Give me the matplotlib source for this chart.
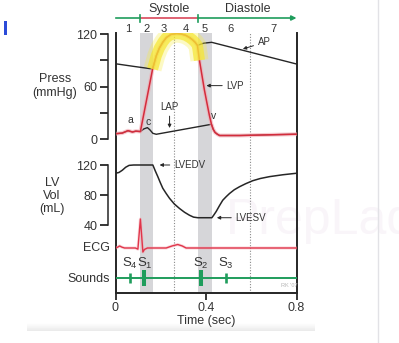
import matplotlib
matplotlib.use('Agg')
import matplotlib.pyplot as plt
import matplotlib.transforms as mtransforms
from matplotlib.patches import Rectangle
import numpy as np

plt.rcParams['font.family'] = ['Liberation Sans', 'DejaVu Sans']
plt.rcParams['mathtext.fontset'] = 'custom'
plt.rcParams['mathtext.rm'] = 'Liberation Sans'
plt.rcParams['mathtext.it'] = 'Liberation Sans:italic'

# ---- one cardiac cycle (0.8 s) ----
phase_edges = [0.0, 0.11, 0.165, 0.26, 0.365, 0.425, 0.595, 0.8]
phase_labels = ['1', '2', '3', '4', '5', '6', '7']
shaded_phases = [1, 4]          # isovolumetric contraction / relaxation
dotted_edges = [0.26, 0.595]

# left ventricular pressure (mmHg)
t_lvp = [0.0, 0.03, 0.055, 0.075, 0.09, 0.11, 0.164, 0.18, 0.194, 0.21, 0.225,
         0.245, 0.27, 0.29, 0.31, 0.327, 0.34, 0.352, 0.362, 0.371, 0.382,
         0.393, 0.405, 0.415, 0.424, 0.432, 0.44, 0.45, 0.46, 0.55, 0.8]
lvp = [6.0, 6.8, 9.5, 8.0, 9.0, 8.5, 80, 95, 104, 111, 116,
       119.5, 120.5, 120, 118.5, 116, 113.5, 110.5, 107, 90, 73,
       56, 40, 27, 17, 11, 7.5, 5.5, 4.0, 4.0, 5.5]

# aortic pressure (mmHg)
t_ap = [0.0, 0.08, 0.164, 0.18, 0.194, 0.21, 0.225, 0.245, 0.27, 0.29, 0.31,
        0.327, 0.34, 0.352, 0.362, 0.39, 0.425, 0.8]
ap = [86, 83, 80, 95, 104, 111, 116, 119.5, 120.5, 120, 118.5,
      116, 113.5, 110.5, 107, 109.5, 110.5, 85.7]

# left atrial pressure (mmHg)
t_lap = [0.0, 0.03, 0.055, 0.075, 0.09, 0.11, 0.125, 0.141, 0.152, 0.165,
         0.18, 0.424, 0.432, 0.44, 0.45, 0.46, 0.55, 0.8]
lap = [6.0, 6.8, 9.5, 8.0, 9.0, 8.5, 11.5, 13.0, 10.5, 6.5,
       5.4, 16.8, 11, 7.5, 5.5, 4.0, 4.0, 5.5]

# left ventricular volume (mL)
t_vol = [0.0, 0.015, 0.03, 0.045, 0.06, 0.08, 0.165, 0.176, 0.187, 0.198,
         0.209, 0.224, 0.239, 0.26, 0.283, 0.305, 0.327, 0.345, 0.364, 0.426,
         0.435, 0.445, 0.46, 0.474, 0.49, 0.504, 0.525, 0.548, 0.575, 0.606,
         0.64, 0.681, 0.74, 0.8]
vol = [109, 110, 113, 117, 119.5, 120, 120, 112, 104.5, 96.5,
       89, 82, 75.5, 68, 62, 57, 53, 50.5, 49.7, 49.7,
       53.5, 58, 66, 73, 78, 82, 87, 91, 95, 99,
       102, 104.5, 107, 109]

# ECG (relative units)
t_ecg = [0.0, 0.01, 0.018, 0.028, 0.04, 0.088, 0.099, 0.11, 0.121, 0.128,
         0.141, 0.224, 0.25, 0.275, 0.295, 0.312, 0.8]
ecg = [0, 0.03, 0.07, 0.03, 0, 0, -0.04, 1.0, -0.14, -0.05,
       0, 0, 0.07, 0.12, 0.07, 0, 0]

# heart sounds
sound_names = ['S$_4$', 'S$_1$', 'S$_2$', 'S$_3$']
sound_times = [0.062, 0.128, 0.376, 0.487]
sound_size = [0.34, 0.47, 0.47, 0.34]

BLACK = '#262626'
RED = '#d42c3c'
GREEN = '#1f9d5c'
GRAY = '#d6d6d9'
TXT = '#333333'

W, H = 399, 343
fig = plt.figure(figsize=(W / 100, H / 100), dpi=100)

X0, X1 = 115.5, 296.5


def fy(ypx):
    return 1 - ypx / H


def band(top, bottom):
    a = fig.add_axes([X0 / W, fy(bottom), (X1 - X0) / W, (bottom - top) / H],
                     sharex=ax)
    a.patch.set_visible(False)
    for s in a.spines.values():
        s.set_visible(False)
    a.tick_params(left=False, bottom=False, labelleft=False, labelbottom=False)
    return a


# main frame: shaded phases, dotted markers, time axis
ax = fig.add_axes([X0 / W, fy(293), (X1 - X0) / W, (293 - 33) / H])
ax.set_xlim(0, 0.8)
ax.set_ylim(0, 1)
ax.patch.set_visible(False)
ax.spines['top'].set_visible(False)
for s in ['left', 'right', 'bottom']:
    ax.spines[s].set_linewidth(1.4)
    ax.spines[s].set_color(BLACK)
ax.set_yticks([])
ax.set_xticks([0, 0.4, 0.8])
ax.set_xticklabels(['0', '0.4', '0.8'])
ax.tick_params(axis='x', length=5, width=1.1, pad=1.5, labelsize=9,
               labelcolor=TXT)
ax.set_xlabel('Time (sec)', fontsize=9, color=TXT, labelpad=1)
for i in shaded_phases:
    ax.axvspan(phase_edges[i], phase_edges[i + 1], color=GRAY, lw=0, zorder=0)
for t in dotted_edges:
    ax.axvline(t, color='#8a8a8a', lw=0.8, ls=(0, (1, 1.5)), zorder=1)

# header: systole / diastole bar and phase numbers
hdr = mtransforms.blended_transform_factory(ax.transData, fig.transFigure)
sys0, sys1 = phase_edges[1], phase_edges[4]
ax.plot([0, sys0], [fy(18)] * 2, color=GREEN, lw=1.2, transform=hdr, clip_on=False)
ax.plot([sys0, sys1], [fy(18)] * 2, color='#d9485a', lw=1.2, transform=hdr, clip_on=False)
ax.annotate('', xy=(0.8, fy(18)), xytext=(sys1, fy(18)), xycoords=hdr,
            textcoords=hdr, annotation_clip=False,
            arrowprops=dict(arrowstyle='-|>', color=GREEN, lw=1.2,
                            shrinkA=0, shrinkB=0, mutation_scale=7))
for t in (sys0, sys1):
    ax.plot([t, t], [fy(14.5), fy(21.5)], color=GREEN, lw=1.2, transform=hdr,
            clip_on=False)
ax.text((sys0 + sys1) / 2, fy(9), 'Systole', transform=hdr, ha='center',
        va='center', fontsize=9, color=TXT)
ax.text((sys1 + 0.8) / 2, fy(9), 'Diastole', transform=hdr, ha='center',
        va='center', fontsize=9, color=TXT)
for i, lab in enumerate(phase_labels):
    ax.text((phase_edges[i] + phase_edges[i + 1]) / 2, fy(28.5), lab,
            transform=hdr, ha='center', va='center', fontsize=8, color=TXT)

arrow_kw = dict(arrowstyle='-|>', color=BLACK, lw=0.7, mutation_scale=5,
                shrinkA=1, shrinkB=0)

# ---- pressures ----
axp = band(33, 145)
axp.set_ylim(-6.857, 121.143)
axp.spines['left'].set_visible(True)
axp.spines['left'].set_position(('outward', 5.4))
axp.spines['left'].set_bounds(0, 120)
axp.spines['left'].set_linewidth(1.1)
axp.spines['left'].set_color(BLACK)
axp.set_yticks([0, 30, 60, 90, 120])
axp.set_yticklabels(['0', '', '60', '', '120'])
axp.tick_params(left=True, labelleft=True, length=5.8, width=1.1, pad=1.8,
                labelsize=9, labelcolor=TXT)

axp.plot(t_ap, ap, color=BLACK, lw=1.0, zorder=2)
axp.plot(t_lap, lap, color=BLACK, lw=1.0, zorder=2)
axp.plot(t_lvp, lvp, color='#f4a7b0', lw=2.8, alpha=0.6, zorder=3,
         solid_capstyle='round')
axp.plot(t_lvp, lvp, color=RED, lw=1.1, zorder=4)
# ejection phase highlight
ej = [i for i, t in enumerate(t_lvp) if 0.16 <= t <= 0.372]
ej_t = [t_lvp[i] for i in ej]
ej_p = [lvp[i] for i in ej]
axp.plot(ej_t, ej_p, color='#f8ec3c', lw=13, alpha=0.3, zorder=5,
         solid_capstyle='butt', solid_joinstyle='round')
axp.plot(ej_t, ej_p, color='#f6e630', lw=8, alpha=0.7, zorder=5,
         solid_capstyle='butt', solid_joinstyle='round')

axp.annotate('AP', xy=(0.563, 102.9), xytext=(0.628, 110.3), ha='left',
             va='center', fontsize=7, color=TXT, arrowprops=arrow_kw)
axp.annotate('LVP', xy=(0.402, 61), xytext=(0.49, 61), ha='left',
             va='center', fontsize=7, color=TXT, arrowprops=arrow_kw)
axp.annotate('LAP', xy=(0.239, 12.6), xytext=(0.239, 36.6), ha='center',
             va='center', fontsize=7, color=TXT, arrowprops=arrow_kw)
axp.text(0.066, 21.7, 'a', ha='center', va='center', fontsize=7.5, color=TXT)
axp.text(0.146, 19.4, 'c', ha='center', va='center', fontsize=7.5, color=TXT)
axp.text(0.434, 26.3, 'v', ha='center', va='center', fontsize=7.5, color=TXT)

# ---- volume ----
axv = band(150, 232)
axv.set_ylim(30.667, 140)
axv.spines['left'].set_visible(True)
axv.spines['left'].set_position(('outward', 5.4))
axv.spines['left'].set_bounds(40, 120)
axv.spines['left'].set_linewidth(1.1)
axv.spines['left'].set_color(BLACK)
axv.set_yticks([40, 80, 120])
axv.set_yticklabels(['40', '80', '120'])
axv.tick_params(left=True, labelleft=True, length=5.8, width=1.1, pad=1.8,
                labelsize=9, labelcolor=TXT)
axv.plot(t_vol, vol, color=BLACK, lw=1.1)
axv.annotate('LVEDV', xy=(0.195, 120), xytext=(0.258, 120), ha='left',
             va='center', fontsize=7, color=TXT, arrowprops=arrow_kw)
axv.annotate('LVESV', xy=(0.448, 49.7), xytext=(0.53, 49.7), ha='left',
             va='center', fontsize=7, color=TXT, arrowprops=arrow_kw)

# ---- ECG ----
axe = band(210, 258)
axe.set_ylim(-0.345, 1.310)
axe.plot(t_ecg, ecg, color='#f4a7b0', lw=2.2, alpha=0.45)
axe.plot(t_ecg, ecg, color='#e0354a', lw=1.0)

# ---- heart sounds ----
axs = band(262, 294)
axs.set_ylim(-1, 1)
axs.plot([0, 0.8], [0, 0], color=GREEN, lw=1.4)
for name, t, s in zip(sound_names, sound_times, sound_size):
    axs.vlines(t, -s, s, color=GREEN, lw=1.9 if s < 0.4 else 2.9)
    axs.text(t, 0.92, name, ha='center', va='center', fontsize=9.5, color=TXT)
axs.text(0.77, -0.45, "RK '07", ha='center', va='center', fontsize=4,
         color='#b5b5b5')

# row labels
fig.text(55 / W, fy(86), 'Press\n(mmHg)', ha='center', va='center',
         fontsize=9, color=TXT, linespacing=1.15)
fig.text(52 / W, fy(196), 'LV\nVol\n(mL)', ha='center', va='center',
         fontsize=9, color=TXT, linespacing=1.1)
fig.text(110 / W, fy(248), 'ECG', ha='right', va='center', fontsize=9,
         color=TXT)
fig.text(110 / W, fy(279), 'Sounds', ha='right', va='center', fontsize=9,
         color=TXT)

# faint watermark and screen elements
fig.text(226 / W, fy(234), 'PrepLadder', fontsize=36, color='#f9f5f9',
         zorder=-5)
fig.add_artist(Rectangle((4 / W, fy(35)), 3 / W, 14 / H, color='#2b4bd8',
                         transform=fig.transFigure, lw=0))
fig.add_artist(plt.Line2D([378 / W] * 2, [0, 1], color='#e2e2e6', lw=1,
                          transform=fig.transFigure))
gax = fig.add_axes([27 / W, fy(331), (315 - 27) / W, 8 / H])
gax.imshow(np.linspace(1.0, 0.92, 20).reshape(-1, 1), aspect='auto',
           cmap='gray', vmin=0, vmax=1)
gax.axis('off')
gax.set_zorder(-10)

fig.savefig('out.png', dpi=100)
